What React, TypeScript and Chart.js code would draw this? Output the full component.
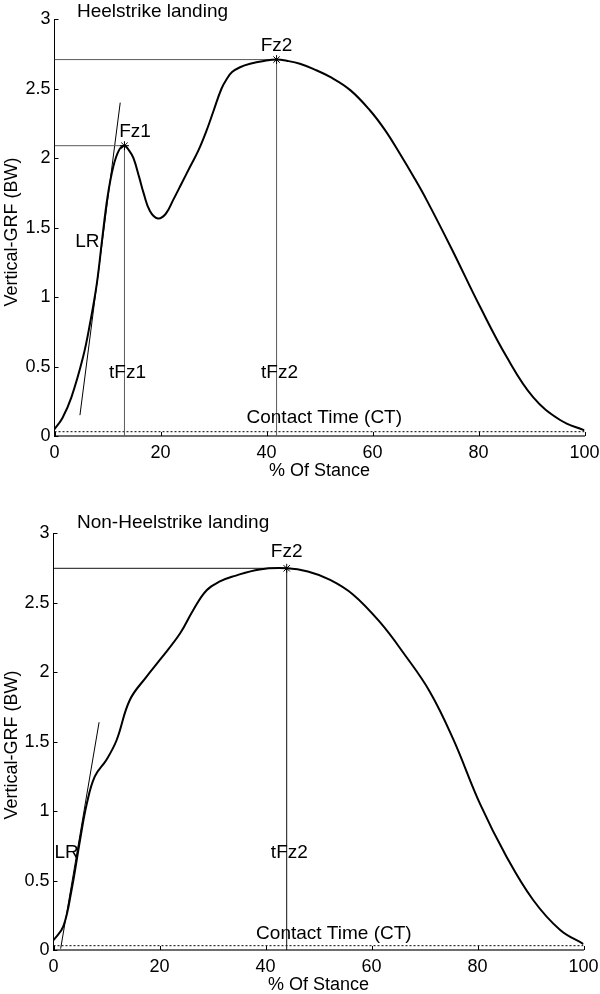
import React, { useEffect, useRef } from "react";
import { Chart, registerables } from "chart.js";

Chart.register(...registerables);

// ---------- data ----------
const xTickValues = [0, 20, 40, 60, 80, 100];
const yTickValues = [0, 0.5, 1, 1.5, 2, 2.5, 3];

const heelX = [0, 1.5, 3.2, 5.4, 6.7, 8, 9, 10, 11.1, 12.2, 13.2, 14, 14.9, 16, 16.8, 18, 19.5, 21, 22.4, 24, 25.6, 27.2, 28.7, 30, 31.5, 32.5, 33.5, 35, 36.9, 39.5, 41.9, 44, 46.3, 49, 52, 55.8, 59.5, 62.4, 65.2, 67.7, 70.2, 74.9, 80.3, 85.3, 90.3, 95.4, 100];
const heelY = [0.05, 0.13, 0.28, 0.57, 0.81, 1.1, 1.42, 1.72, 1.94, 2.06, 2.09, 2.06, 2.0, 1.86, 1.75, 1.62, 1.566, 1.6, 1.7, 1.82, 1.94, 2.06, 2.2, 2.34, 2.5, 2.57, 2.62, 2.655, 2.68, 2.7, 2.71, 2.7, 2.68, 2.64, 2.585, 2.49, 2.345, 2.2, 2.03, 1.87, 1.7, 1.35, 0.93, 0.57, 0.28, 0.115, 0.04];

const nonHeelX = [0, 1.85, 3.4, 5, 6.3, 7.8, 10, 11.9, 14.4, 17.6, 20.1, 23.9, 26.4, 28.9, 31.5, 33.9, 38.9, 44, 48, 52.2, 56.5, 61.6, 66, 71, 75.4, 80.5, 85.5, 90.5, 95.6, 100];
const nonHeelY = [0.07, 0.17, 0.43, 0.79, 1.056, 1.25, 1.37, 1.51, 1.8, 1.97, 2.09, 2.28, 2.45, 2.59, 2.655, 2.69, 2.74, 2.748, 2.725, 2.665, 2.56, 2.36, 2.14, 1.86, 1.52, 1.05, 0.67, 0.36, 0.144, 0.043];

const heelPeakX = [13.2, 41.9];
const heelPeakY = [2.09, 2.71];
const nonHeelPeakX = [44.0];
const nonHeelPeakY = [2.748];

const heelLRX = [4.8, 12.4];
const heelLRY = [0.15, 2.4];
const nonHeelLRX = [1.35, 8.6];
const nonHeelLRY = [0.01, 1.64];

const heelCT = 0.031;
const nonHeelCT = 0.031;

const heelLabelText = ["Fz1", "Fz2", "LR", "tFz1", "tFz2", "Contact Time (CT)"];
const heelLabelX = [15.2, 41.9, 6.2, 13.77, 42.45, 50.9];
const heelLabelY = [2.153, 2.77, 1.36, 0.415, 0.415, 0.091];

const nonHeelLabelText = ["Fz2", "LR", "tFz2", "Contact Time (CT)"];
const nonHeelLabelX = [44.0, 2.47, 44.5, 52.9];
const nonHeelLabelY = [2.827, 0.66, 0.66, 0.079];

const FAMILY = '"Liberation Sans", Arial, Helvetica, sans-serif';
const FONT = "19px " + FAMILY;

type Panel = {
  title: string;
  xs: number[];
  ys: number[];
  peakX: number[];
  peakY: number[];
  lrX: number[];
  lrY: number[];
  ct: number;
  labelText: string[];
  labelX: number[];
  labelY: number[];
  refColor: string;
  left: number;
  right: number;
  top: number;
  bottom: number;
  titleX: number;
  titleY: number;
  xTitleY: number;
  yTitleX: number;
  yTitleY: number;
};

const W = 600;
const H = 497;

function makeChart(canvas: HTMLCanvasElement, p: Panel) {
  const datasets: any[] = [];
  datasets.push({
    data: p.xs.map((x, i) => ({ x, y: p.ys[i] })),
    showLine: true,
    borderColor: "#000",
    borderWidth: 2,
    pointRadius: 0,
    tension: 0.4,
    order: 1,
  });
  p.peakX.forEach((px, i) => {
    const py = p.peakY[i];
    datasets.push({
      data: [{ x: 0, y: py }, { x: px, y: py }],
      showLine: true,
      borderColor: p.refColor,
      borderWidth: 1,
      pointRadius: 0,
      order: 2,
    });
    datasets.push({
      data: [{ x: px, y: 0 }, { x: px, y: py }],
      showLine: true,
      borderColor: p.refColor,
      borderWidth: 1,
      pointRadius: 0,
      order: 2,
    });
  });
  datasets.push({
    data: p.lrX.map((x, i) => ({ x, y: p.lrY[i] })),
    showLine: true,
    borderColor: "#000",
    borderWidth: 1,
    pointRadius: 0,
    order: 2,
  });
  datasets.push({
    data: [{ x: 0, y: p.ct }, { x: 100, y: p.ct }],
    showLine: true,
    borderColor: "#000",
    borderWidth: 1,
    borderDash: [2, 2],
    pointRadius: 0,
    order: 2,
  });
  datasets.push({
    data: p.peakX.map((x, i) => ({ x, y: p.peakY[i] })),
    showLine: false,
    pointStyle: "star",
    pointRadius: 4.5,
    borderColor: "#000",
    backgroundColor: "#000",
    pointBorderWidth: 1,
    order: 0,
  });

  const decor = {
    id: "decor",
    afterDraw(chart: any) {
      const { ctx, chartArea } = chart;
      const xs = chart.scales.x;
      const ys = chart.scales.y;
      ctx.save();
      ctx.strokeStyle = "#000";
      ctx.lineWidth = 1;
      ctx.beginPath();
      xs.ticks.forEach((t: any) => {
        const px = Math.round(xs.getPixelForValue(t.value)) + 0.5;
        ctx.moveTo(px, chartArea.bottom);
        ctx.lineTo(px, chartArea.bottom - 4);
      });
      ys.ticks.forEach((t: any) => {
        const py = Math.round(ys.getPixelForValue(t.value)) + 0.5;
        ctx.moveTo(chartArea.left, py);
        ctx.lineTo(chartArea.left + 4, py);
      });
      ctx.stroke();
      ctx.fillStyle = "#000";
      ctx.font = FONT;
      ctx.textBaseline = "alphabetic";
      ctx.textAlign = "center";
      p.labelText.forEach((t, i) => {
        ctx.fillText(t, xs.getPixelForValue(p.labelX[i]), ys.getPixelForValue(p.labelY[i]));
      });
      ctx.font = "18px " + FAMILY;
      ctx.fillText("% Of Stance", (chartArea.left + chartArea.right) / 2, p.xTitleY);
      ctx.font = FONT;
      ctx.textAlign = "left";
      ctx.fillText(p.title, p.titleX, p.titleY);
      ctx.font = "18px " + FAMILY;
      ctx.translate(p.yTitleX, p.yTitleY);
      ctx.rotate(-Math.PI / 2);
      ctx.textAlign = "center";
      ctx.fillText("Vertical-GRF (BW)", 0, 0);
      ctx.restore();
    },
  };

  return new Chart(canvas, {
    type: "scatter",
    data: { datasets },
    plugins: [decor],
    options: {
      animation: false,
      responsive: false,
      devicePixelRatio: 1,
      layout: {
        padding: { left: 0, right: W - p.right, top: p.top, bottom: H - p.bottom - 40 },
      },
      plugins: { legend: { display: false }, tooltip: { enabled: false }, title: { display: false } },
      scales: {
        x: {
          type: "linear",
          min: 0,
          max: 100,
          afterBuildTicks: (s: any) => {
            s.ticks = xTickValues.map((v) => ({ value: v }));
          },
          afterFit: (s: any) => {
            s.height = 40;
            s.paddingLeft = 0;
            s.paddingRight = 0;
          },
          grid: { display: false, drawTicks: false },
          border: { display: true, color: "#6e6e6e", width: 2 },
          ticks: {
            color: "#000",
            font: { family: FAMILY, size: 18 },
            padding: 6,
            maxRotation: 0,
            callback: (v: any) => String(v),
          },
        },
        y: {
          type: "linear",
          min: 0,
          max: 3,
          afterBuildTicks: (s: any) => {
            s.ticks = yTickValues.map((v) => ({ value: v }));
          },
          afterFit: (s: any) => {
            s.width = p.left;
            s.paddingTop = 0;
            s.paddingBottom = 0;
          },
          grid: { display: false, drawTicks: false },
          border: { display: true, color: "#000", width: 1 },
          ticks: {
            color: "#000",
            font: { family: FAMILY, size: 18 },
            padding: 4,
            callback: (v: any) => String(v),
          },
        },
      },
    },
  });
}

const topPanel: Panel = {
  title: "Heelstrike landing",
  xs: heelX,
  ys: heelY,
  peakX: heelPeakX,
  peakY: heelPeakY,
  lrX: heelLRX,
  lrY: heelLRY,
  ct: heelCT,
  labelText: heelLabelText,
  labelX: heelLabelX,
  labelY: heelLabelY,
  refColor: "#5a5a5a",
  left: 54.5,
  right: 584.5,
  top: 19.3,
  bottom: 436,
  titleX: 77,
  titleY: 17,
  xTitleY: 476,
  yTitleX: 17,
  yTitleY: 232,
};

const bottomPanel: Panel = {
  title: "Non-Heelstrike landing",
  xs: nonHeelX,
  ys: nonHeelY,
  peakX: nonHeelPeakX,
  peakY: nonHeelPeakY,
  lrX: nonHeelLRX,
  lrY: nonHeelLRY,
  ct: nonHeelCT,
  labelText: nonHeelLabelText,
  labelX: nonHeelLabelX,
  labelY: nonHeelLabelY,
  refColor: "#111",
  left: 53.5,
  right: 583.5,
  top: 36.3,
  bottom: 453,
  titleX: 77,
  titleY: 31,
  xTitleY: 493,
  yTitleX: 17,
  yTitleY: 248,
};

function Panel({ panel, top }: { panel: Panel; top: number }) {
  const ref = useRef<HTMLCanvasElement | null>(null);
  useEffect(() => {
    if (!ref.current) return;
    const chart = makeChart(ref.current, panel);
    return () => chart.destroy();
  }, [panel]);
  return (
    <canvas
      ref={ref}
      width={W}
      height={H}
      style={{ position: "absolute", left: 0, top, width: W, height: H, display: "block" }}
    />
  );
}

export default function App() {
  return (
    <div style={{ position: "absolute", left: 0, top: 0, width: 600, height: 994, background: "#fff" }}>
      <Panel panel={topPanel} top={0} />
      <Panel panel={bottomPanel} top={497} />
    </div>
  );
}
